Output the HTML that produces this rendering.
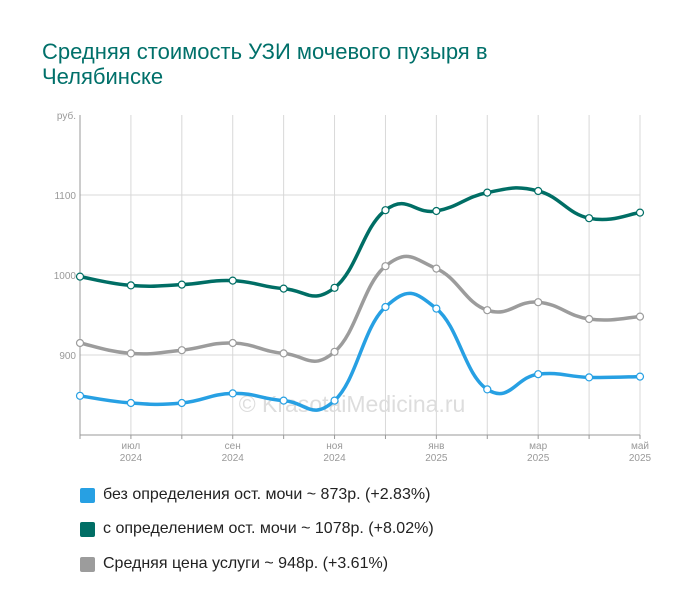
<!DOCTYPE html>
<html><head><meta charset="utf-8"><style>
body{margin:0;background:#fff;width:700px;height:612px;overflow:hidden;font-family:"Liberation Sans",sans-serif}
.t{position:absolute;left:42px;top:39px;font-size:22px;color:#00706a;line-height:25px;width:500px}
.lg{position:absolute;left:80px;font-size:16px;color:#222;display:flex;align-items:center}
.lg span{display:inline-block;width:15px;height:15px;margin-right:8px;border-radius:2px}
</style></head><body>
<div class="t">Средняя стоимость УЗИ мочевого пузыря в Челябинске</div>
<svg id="c" width="700" height="612" style="position:absolute;left:0;top:0"></svg>
<div class="lg" style="top:486px"><span style="background:#27a0e3"></span>без определения ост. мочи ~ 873р. (+2.83%)</div>
<div class="lg" style="top:520px"><span style="background:#006e65"></span>с определением ост. мочи ~ 1078р. (+8.02%)</div>
<div class="lg" style="top:555px"><span style="background:#9c9c9c"></span>Средняя цена услуги ~ 948р. (+3.61%)</div>
<script>
const months=["","июл","","сен","","ноя","","янв","","мар","","май"];
const years=["","2024","","2024","","2024","","2025","","2025","","2025"];
const dark=[998,987,988,993,983,984,1081,1080,1103,1105,1071,1078];
const grey=[915,902,906,915,902,904,1011,1008,956,966,945,948];
const blue=[849,840,840,852,843,843,960,958,857,876,872,873];
const yTicks=[900,1000,1100];
const NS="http://www.w3.org/2000/svg",svg=document.getElementById('c');
const X0=80,X1=640,Y0=435,Y1=115,VMIN=800,VMAX=1200;
const xs=i=>X0+(X1-X0)*i/(months.length-1);
const ys=v=>Y0-(v-VMIN)/(VMAX-VMIN)*(Y0-Y1);
function mk(t,a){const e=document.createElementNS(NS,t);for(const k in a)e.setAttribute(k,a[k]);svg.appendChild(e);return e;}
yTicks.forEach(v=>{
const g=mk('line',{x1:X0,x2:X1,y1:ys(v),y2:ys(v),stroke:'#d8d8d8'});


const t=mk('text',{x:X0-4,y:ys(v)+4,'text-anchor':'end','font-size':10,fill:'#999'});t.textContent=v;


});
months.forEach((m,i)=>{
const x=xs(i);
if(i>0){const g=mk('line',{x1:x,x2:x,y1:Y1,y2:Y0,stroke:'#d8d8d8'});

}
mk('line',{x1:x,x2:x,y1:Y0,y2:Y0+4,stroke:'#999'});
if(m){const t=mk('text',{x:x,y:Y0+14,'text-anchor':'middle','font-size':10,fill:'#999'});t.textContent=m;


const t2=mk('text',{x:x,y:Y0+26,'text-anchor':'middle','font-size':10,fill:'#999'});t2.textContent=years[i];

}
});
mk('line',{x1:X0,x2:X0,y1:Y1,y2:Y0,stroke:'#999'});
mk('line',{x1:X0,x2:X1,y1:Y0,y2:Y0,stroke:'#999'});
const u=mk('text',{x:X0-4,y:Y1+4,'text-anchor':'end','font-size':10,fill:'#999'});u.textContent='руб.';


const wm=mk('text',{x:352,y:412,'text-anchor':'middle','font-size':23,fill:'#ddd'});wm.textContent='© KrasotaiMedicina.ru';


function path(vals){const p=vals.map((v,i)=>[xs(i),ys(v)]);let d=`M${p[0][0]},${p[0][1]}`;
for(let i=0;i<p.length-1;i++){const a=p[Math.max(i-1,0)],b=p[i],c=p[i+1],e=p[Math.min(i+2,p.length-1)];const k=0.22;
d+=`C${b[0]+(c[0]-a[0])*k},${b[1]+(c[1]-a[1])*k} ${c[0]-(e[0]-b[0])*k},${c[1]-(e[1]-b[1])*k} ${c[0]},${c[1]}`;}return d;}
[[grey,'#9c9c9c','series-average'],[dark,'#006e65','series-with-residual'],[blue,'#27a0e3','series-without-residual']].forEach(([vals,col,name])=>{
const l=mk('path',{d:path(vals),fill:'none',stroke:col,'stroke-width':3.5});


vals.forEach((v,i)=>{const c=mk('circle',{cx:xs(i),cy:ys(v),r:3.5,fill:'#fff',stroke:col,'stroke-width':1.2});

});
});
</script>
</body></html>
